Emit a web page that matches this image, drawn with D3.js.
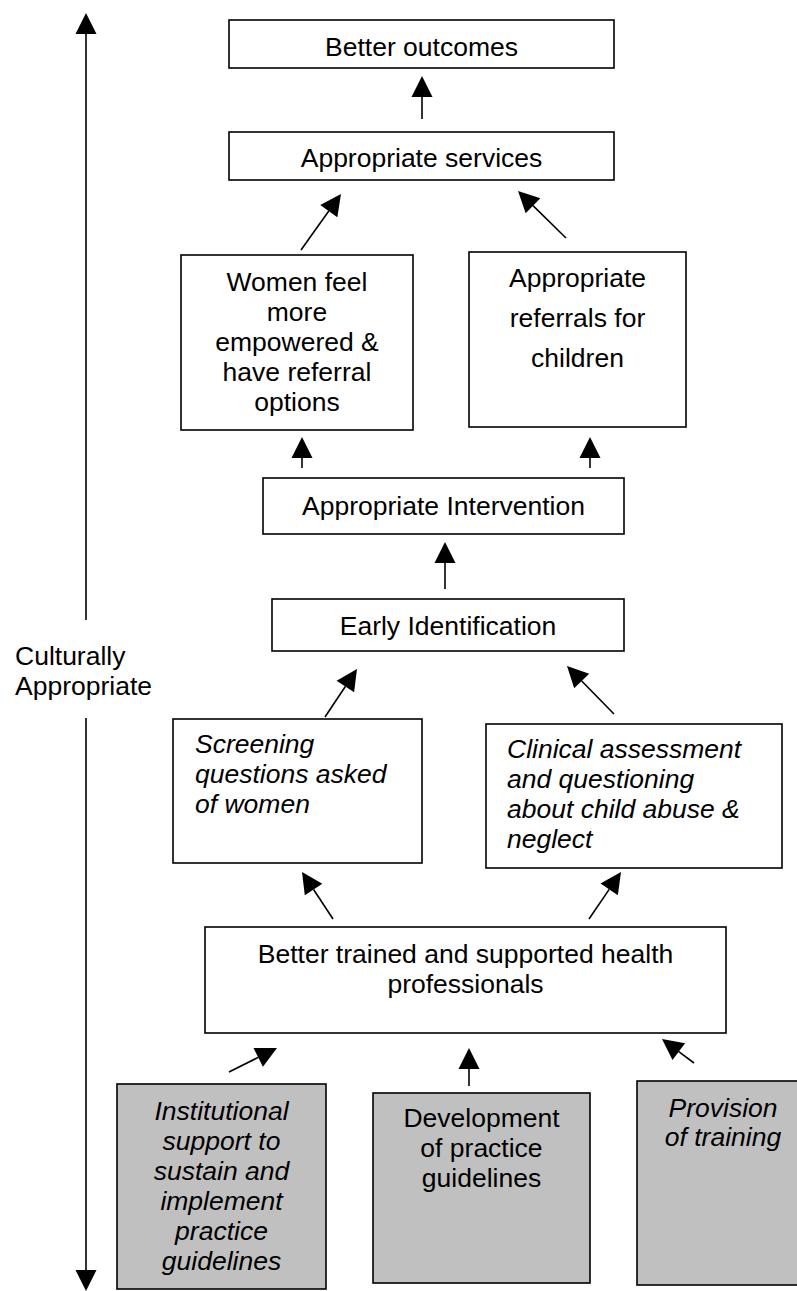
<!DOCTYPE html>
<html>
<head>
<meta charset="utf-8">
<script src="https://cdn.jsdelivr.net/npm/d3@7"></script>
<style>
  body { margin: 0; background: #fff; }
  svg { display: block; }
</style>
</head>
<body>
<div id="chart"></div>
<script>
// Data: box texts (one entry per line)
const boxLines = [
  ['Better outcomes'],
  ['Appropriate services'],
  ['Women feel', 'more', 'empowered &', 'have referral', 'options'],
  ['Appropriate', 'referrals for', 'children'],
  ['Appropriate Intervention'],
  ['Early Identification'],
  ['Screening', 'questions asked', 'of women'],
  ['Clinical assessment', 'and questioning', 'about child abuse &', 'neglect'],
  ['Better trained and supported health', 'professionals'],
  ['Institutional', 'support to', 'sustain and', 'implement', 'practice', 'guidelines'],
  ['Development', 'of practice', 'guidelines'],
  ['Provision', 'of training'],
];
const boxItalic = [false, false, false, false, false, false, true, true, false, true, false, true];
const boxInput = [false, false, false, false, false, false, false, false, false, true, true, true];
const sideLabel = ['Culturally', 'Appropriate'];

// Layout (page pixels)
const boxLayout = [
  { x: 229, y: 20, w: 385, h: 48, ty: 56, lh: 30, align: 'middle' },
  { x: 229, y: 132, w: 385, h: 48, ty: 167, lh: 30, align: 'middle' },
  { x: 181, y: 255, w: 232, h: 175, ty: 291, lh: 30, align: 'middle' },
  { x: 469, y: 252, w: 217, h: 175, ty: 287, lh: 40, align: 'middle' },
  { x: 263, y: 478, w: 361, h: 56, ty: 515, lh: 30, align: 'middle' },
  { x: 272, y: 599, w: 352, h: 52, ty: 635, lh: 30, align: 'middle' },
  { x: 173, y: 719, w: 249, h: 144, ty: 753, lh: 30, align: 'start', tx: 195 },
  { x: 486, y: 724, w: 296, h: 144, ty: 758, lh: 30, align: 'start', tx: 507 },
  { x: 205, y: 927, w: 521, h: 106, ty: 963, lh: 30, align: 'middle' },
  { x: 117, y: 1084, w: 209, h: 205, ty: 1120, lh: 30, align: 'middle' },
  { x: 373, y: 1093, w: 217, h: 190, ty: 1127, lh: 30, align: 'middle' },
  { x: 637, y: 1081, w: 172, h: 204, ty: 1117, lh: 29, align: 'middle' },
];

// arrows: tail -> tip
const arrowLayout = [
  [422, 119, 422, 76],
  [301, 250, 341, 194],
  [566, 238, 518, 191],
  [302, 468, 302, 437],
  [590, 468, 590, 437],
  [445, 589, 445, 542],
  [325, 717, 357, 669],
  [614, 714, 567, 666],
  [333, 919, 302, 872],
  [589, 919, 621, 872],
  [229, 1072, 277, 1048],
  [469, 1086, 469, 1048],
  [694, 1063, 662, 1039],
];

const width = 797;
const height = 1291;
const font = '"Liberation Sans", Arial, Helvetica, sans-serif';
const fontSize = 26.5;

const svg = d3
  .select('#chart')
  .append('svg')
  .attr('width', width)
  .attr('height', height);

// Arrow helper
function arrow(g, x1, y1, x2, y2, len = 21, half = 10.5) {
  const a = Math.atan2(y2 - y1, x2 - x1);
  const bx = x2 - len * Math.cos(a);
  const by = y2 - len * Math.sin(a);
  const px = -Math.sin(a) * half;
  const py = Math.cos(a) * half;
  g.append('line')
    .attr('x1', x1)
    .attr('y1', y1)
    .attr('x2', bx)
    .attr('y2', by)
    .attr('stroke', '#000')
    .attr('stroke-width', 1.6);
  g.append('path')
    .attr('d', `M${x2},${y2}L${bx + px},${by + py}L${bx - px},${by - py}Z`)
    .attr('fill', '#000');
}

// Side axis: double headed vertical arrow, broken by the label
const side = svg.append('g');
arrow(side, 86, 620, 86, 13);
arrow(side, 86, 718, 86, 1291);

side
  .append('text')
  .attr('font-family', font)
  .attr('font-size', fontSize)
  .selectAll('tspan')
  .data(sideLabel)
  .join('tspan')
  .attr('x', 15)
  .attr('y', (d, i) => 665 + i * 30)
  .text((d) => d);

// Boxes
const boxes = svg
  .append('g')
  .selectAll('g')
  .data(boxLines)
  .join('g');

boxes
  .append('rect')
  .attr('x', (d, i) => boxLayout[i].x)
  .attr('y', (d, i) => boxLayout[i].y)
  .attr('width', (d, i) => boxLayout[i].w)
  .attr('height', (d, i) => boxLayout[i].h)
  .attr('fill', (d, i) => (boxInput[i] ? '#c0c0c0' : '#fff'))
  .attr('stroke', '#000')
  .attr('stroke-width', 1.6);

boxes
  .append('text')
  .attr('font-family', font)
  .attr('font-size', fontSize)
  .attr('font-style', (d, i) => (boxItalic[i] ? 'italic' : 'normal'))
  .attr('text-anchor', (d, i) => boxLayout[i].align)
  .each(function (lines, i) {
    const b = boxLayout[i];
    const x = b.align === 'middle' ? b.x + b.w / 2 : b.tx;
    d3.select(this)
      .selectAll('tspan')
      .data(lines)
      .join('tspan')
      .attr('x', i === 11 ? 723 : x)
      .attr('y', (d, j) => b.ty + j * b.lh)
      .text((d) => d);
  });

// Arrows between boxes
const arrows = svg.append('g');
arrowLayout.forEach((a) => arrow(arrows, ...a));
</script>
</body>
</html>
